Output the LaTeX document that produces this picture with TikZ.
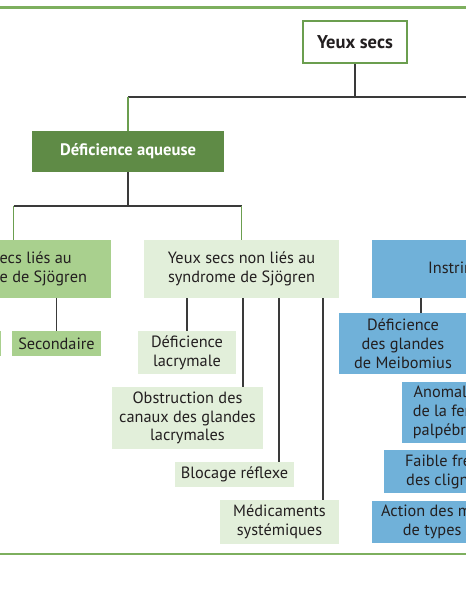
\documentclass[tikz,border=0pt]{standalone}
\usepackage{fontspec}
\setmainfont{PT Sans}
\definecolor{textc}{HTML}{231F20}
\definecolor{dkgreen}{HTML}{5F8B46}
\definecolor{mdgreen}{HTML}{A9D08E}
\definecolor{ltgreen}{HTML}{E2EFDA}
\definecolor{bluebox}{HTML}{70B1D9}
\definecolor{bordgreen}{HTML}{6B9E4F}
\definecolor{rulegreen}{HTML}{7DAF5E}
\definecolor{linec}{HTML}{3A3A3A}
\newcommand\mybox[7]{\node[#2, minimum width={#5-#3}, minimum height={#6-#4}] (#1) at ({(#3+#5)/2},{(#4+#6)/2}) {#7};}
\begin{document}
\begin{tikzpicture}[x=1pt,y=-1pt,
  base/.style={inner sep=0pt, align=center, font=\fontsize{16.3}{18.8}\selectfont, text=textc},
  topbox/.style={base, fill=white, draw=bordgreen, line width=2pt, font=\fontsize{18.5}{20}\selectfont\bfseries},
  dkbox/.style={base, fill=dkgreen, text=white, font=\fontsize{16.6}{19}\selectfont\bfseries},
  mdbox/.style={base, fill=mdgreen},
  ltbox/.style={base, fill=ltgreen},
  blbox/.style={base, fill=bluebox},
  conn/.style={draw=linec, line width=1.6pt},
  gconn/.style={draw=bordgreen, line width=1.4pt},
  rule/.style={draw=rulegreen, line width=2.6pt}
]
\useasboundingbox (0,0) rectangle (466,600);
\clip (0,0) rectangle (466,600);
\fill[white] (0,0) rectangle (466,600);
\draw[rule] (-2,7.5) -- (470,7.5);
\draw[rule] (-2,554) -- (470,554);

\mybox{ys}{topbox}{303}{21}{407}{63}{Yeux secs}
\mybox{da}{dkbox}{32}{131}{224}{172}{Déficience aqueuse}
\mybox{li}{mdbox}{-84}{240}{111}{298}{Yeux secs liés au\\syndrome de Sjögren}
\mybox{nl}{ltbox}{144}{240}{339}{298}{Yeux secs non liés au\\syndrome de Sjögren}
\mybox{pr}{mdbox}{-90}{331}{1}{356}{Primaire}
\mybox{se}{mdbox}{12}{331}{101}{356}{Secondaire}
\mybox{dl}{ltbox}{138}{331}{236}{374}{Déficience\\lacrymale}
\mybox{ob}{ltbox}{112}{387}{263}{449}{Obstruction des\\canaux des glandes\\lacrymales}
\mybox{bl}{ltbox}{175}{462}{294}{487}{Blocage réflexe}
\mybox{me}{ltbox}{220}{500}{339}{544}{Médicaments\\systémiques}
\mybox{in}{blbox}{372}{240}{570}{298}{Instrinsèque}
\mybox{mb}{blbox}{339}{313}{467}{374}{Déficience\\des glandes\\de Meibomius}
\mybox{an}{blbox}{402}{382}{498}{443}{Anomalies\\de la fente\\palpébrale}
\mybox{ff}{blbox}{384}{450}{542}{493}{Faible fréquence\\des clignements}
\mybox{ac}{blbox}{372}{501}{560}{543}{Action des médicaments\\de types Accutane}

\coordinate (h1) at (355,97);
\coordinate (hR) at (470,97);
\coordinate (h2) at (128,206);
\draw[conn] (ys.south) -- (h1);
\draw[conn] (da.north |- h1) -- (hR);
\draw[gconn] (da.north |- h1) -- (da.north);
\draw[conn] (da.south) -- (h2);
\draw[conn] (li.north |- h2) -- (nl.north |- h2);
\draw[gconn] (li.north |- h2) -- (li.north);
\draw[gconn] (nl.north |- h2) -- (nl.north);
\draw[conn] (se.north |- li.south) -- (se.north);
\draw[conn] (dl.north |- nl.south) -- (dl.north);
\coordinate (obt) at ([xshift=-20pt]ob.north east);
\coordinate (blt) at ([xshift=-15pt]bl.north east);
\coordinate (met) at ([xshift=-16pt]me.north east);
\coordinate (int) at ([xshift=49pt]in.south west);
\draw[conn] (obt |- nl.south) -- (obt);
\draw[conn] (blt |- nl.south) -- (blt);
\draw[conn] (met |- nl.south) -- (met);
\draw[conn] (int) -- (int |- mb.north);
\end{tikzpicture}
\end{document}
